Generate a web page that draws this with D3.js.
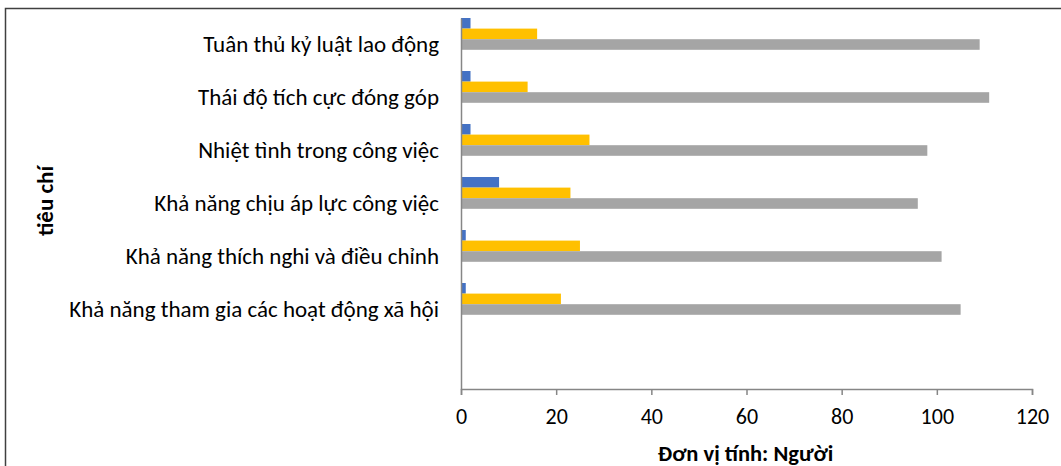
<!DOCTYPE html>
<html>
<head>
<meta charset="utf-8">
<script src="https://cdn.jsdelivr.net/npm/d3@7"></script>
<style>
  body { margin: 0; background: #fff; }
  text { font-family: Carlito, Lato, "Open Sans", sans-serif; fill: #000; }
</style>
</head>
<body>
<div class="chart"></div>
<script>
// bar chart - tieu chi danh gia

var categories = [
    "Tuân thủ kỷ luật lao động",
    "Thái độ tích cực đóng góp ",
    "Nhiệt tình trong công việc",
    "Khả năng chịu áp lực công việc",
    "Khả năng thích nghi và điều chỉnh",
    "Khả năng tham gia các hoạt động xã hội",
    ""
];
var seriesNames = ["Series1", "Series2", "Series3"];
var series1 = [2, 2, 2, 8, 1, 1];
var series2 = [16, 14, 27, 23, 25, 21];
var series3 = [109, 111, 98, 96, 101, 105];
var xTicks = [0, 20, 40, 60, 80, 100, 120];
var colors = ["#4472C4", "#FFC000", "#A5A5A5"];

var svgWidth = 1061;
var svgHeight = 466;

var margin = { top: 18, left: 461, right: 29, bottom: 77 };
var chartWidth = svgWidth - margin.left - margin.right;
var chartHeight = svgHeight - margin.top - margin.bottom;

var svg = d3.select(".chart")
    .append("svg")
    .attr("width", svgWidth)
    .attr("height", svgHeight);

// outer frame
svg.append("rect")
    .attr("x", 5.5)
    .attr("y", 8.5)
    .attr("width", 1100)
    .attr("height", 500)
    .attr("fill", "none")
    .attr("stroke", "#404040")
    .attr("stroke-width", 1.5);

var chart = svg.append("g")
    .attr("transform", "translate(" + margin.left + "," + margin.top + ")");

var xScale = d3.scaleLinear().domain([0, 120]).range([0, chartWidth]);
var yScale = d3.scaleBand().domain(d3.range(categories.length)).range([0, chartHeight]).padding(0);
var subScale = d3.scaleBand().domain(seriesNames).range([0, yScale.bandwidth() * 0.6]);

var rows = [];
series1.forEach(function(v, i) {
    rows.push({ cat: i, key: seriesNames[0], value: series1[i] });
    rows.push({ cat: i, key: seriesNames[1], value: series2[i] });
    rows.push({ cat: i, key: seriesNames[2], value: series3[i] });
});

chart.selectAll("rect.bar")
    .data(rows)
    .enter()
    .append("rect")
    .attr("class", "bar")
    .attr("x", xScale(0))
    .attr("y", function(d) { return yScale(d.cat) + subScale(d.key); })
    .attr("width", function(d) { return xScale(d.value) - xScale(0); })
    .attr("height", subScale.bandwidth())
    .attr("fill", function(d) { return colors[seriesNames.indexOf(d.key)]; });

// x axis
var bottomAxis = d3.axisBottom(xScale).tickValues(xTicks).tickSize(6).tickPadding(13).tickFormat(d3.format("d"));
var xAxis = chart.append("g")
    .attr("transform", "translate(0," + chartHeight + ")")
    .call(bottomAxis);
xAxis.select(".domain").attr("stroke", "#868686").attr("stroke-width", 1.5);
xAxis.selectAll(".tick line").attr("stroke", "#868686").attr("stroke-width", 1.5);
xAxis.selectAll(".tick text")
    .style("font-size", "22px")
    .attr("fill", "#000");

// y axis
var leftAxis = d3.axisLeft(yScale).tickSize(0).tickPadding(22).tickFormat(function(i) { return categories[i]; });
var yAxis = chart.append("g").call(leftAxis);
yAxis.select(".domain").attr("stroke", "#868686").attr("stroke-width", 1.5);
yAxis.selectAll(".tick text")
    .style("font-size", "23px")
    .attr("fill", "#000");

// axis titles
chart.append("text")
    .attr("x", chartWidth / 2 - 1)
    .attr("y", chartHeight + 72)
    .attr("text-anchor", "middle")
    .style("font-size", "22.5px")
    .style("font-weight", "bold")
    .text("Đơn vị tính: Người");

chart.append("text")
    .attr("transform", "rotate(-90)")
    .attr("x", -(201 - margin.top))
    .attr("y", 53 - margin.left)
    .attr("text-anchor", "middle")
    .style("font-size", "23px")
    .style("font-weight", "bold")
    .text("tiêu chí");
</script>
</body>
</html>
